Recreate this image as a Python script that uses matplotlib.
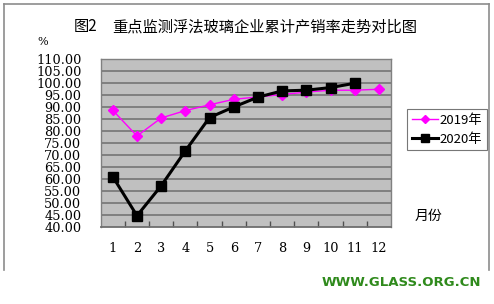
import matplotlib
matplotlib.use("Agg")
import matplotlib.pyplot as plt
from matplotlib.lines import Line2D

months = [1, 2, 3, 4, 5, 6, 7, 8, 9, 10, 11, 12]
month_labels = ["1", "2", "3", "4", "5", "6", "7", "8", "9", "10", "11", "12"]
rate_2019 = [88.7, 78.0, 85.5, 88.6, 91.0, 93.3, 94.3, 95.3, 96.3, 97.1, 97.1, 97.5]
months_2020 = [1, 2, 3, 4, 5, 6, 7, 8, 9, 10, 11]
rate_2020 = [61.0, 44.7, 57.2, 71.8, 85.7, 90.1, 94.2, 96.8, 97.1, 98.2, 100.0]
yticks = [40, 45, 50, 55, 60, 65, 70, 75, 80, 85, 90, 95, 100, 105, 110]

cjk = ["Noto Sans CJK SC", "DejaVu Sans"]

fig = plt.figure(figsize=(4.94, 3.04), dpi=100)
fig.patch.set_facecolor("white")

# outer frame (left, top, right)
W, H = 494, 304
def fx(px): return px / W
def fy(py): return 1 - py / H
frame_col = "#8c8c8c"
fig.add_artist(Line2D([fx(4), fx(4)], [fy(270), fy(4)], color=frame_col, lw=1.2))
fig.add_artist(Line2D([fx(4), fx(489)], [fy(4), fy(4)], color=frame_col, lw=1.2))
fig.add_artist(Line2D([fx(489), fx(489)], [fy(4), fy(270)], color=frame_col, lw=1.2))

ax = fig.add_axes([100.7 / W, 1 - 227 / H, (391 - 100.7) / W, (227 - 59.3) / H])
ax.set_facecolor("#c0c0c0")
ax.set_xlim(0.5, 12.5)
ax.set_ylim(40, 110)

for v in yticks[1:-1]:
    ax.axhline(v, color="#6e6e6e", lw=1.1, zorder=1)

ax.plot(months, rate_2019, color="#ff00ff", lw=1.0, marker="D", markersize=5,
        markerfacecolor="#ff00ff", markeredgecolor="#ff00ff", zorder=3, label="2019年")
ax.plot(months_2020, rate_2020, color="black", lw=2.2, marker="s", markersize=7,
        markerfacecolor="black", markeredgecolor="black", zorder=4, label="2020年")

for s in ["left", "top", "right"]:
    ax.spines[s].set_color("#808080")
    ax.spines[s].set_linewidth(1.0)
ax.spines["bottom"].set_color("#6e6e6e")
ax.spines["bottom"].set_linewidth(1.3)

ax.set_yticks(yticks)
ax.set_yticklabels([f"{v:.2f}" for v in yticks], fontfamily="DejaVu Serif", fontsize=9.3)
ax.tick_params(axis="y", length=0, pad=14)

ax.set_xticks(months)
ax.set_xticklabels(month_labels, fontfamily="DejaVu Serif", fontsize=9.3)
ax.set_xticks([m + 0.5 for m in months[:-1]], minor=True)
ax.tick_params(axis="x", which="major", length=0, pad=11)
ax.tick_params(axis="x", which="minor", direction="in", length=4, color="#505050", width=1)

fig.text(fx(74), fy(27), "图2", family=cjk, fontsize=11, va="center", ha="left")
fig.text(fx(112), fy(27), "重点监测浮法玻璃企业累计产销率走势对比图", family=cjk, fontsize=11,
         va="center", ha="left")
fig.text(fx(43), fy(42), "%", family="DejaVu Serif", fontsize=8, va="center", ha="center")
fig.text(fx(428), fy(216), "月份", family=cjk, fontsize=10, va="center", ha="center")
fig.text(fx(401.5), fy(282), "WWW.GLASS.ORG.CN", family="DejaVu Sans", fontweight="bold",
         fontsize=9.5, color="#2f8a1c", va="center", ha="center")

leg = fig.legend(loc="upper left", bbox_to_anchor=(fx(407), fy(109)),
                 prop={"family": cjk, "size": 9.5}, frameon=True, fancybox=False,
                 borderpad=0.35, handlelength=2.0, handletextpad=0.1,
                 labelspacing=0.45, borderaxespad=0, markerscale=0.8)
leg.get_frame().set_edgecolor("#555555")
leg.get_frame().set_linewidth(0.8)

fig.savefig("out.png", dpi=100, facecolor="white")
